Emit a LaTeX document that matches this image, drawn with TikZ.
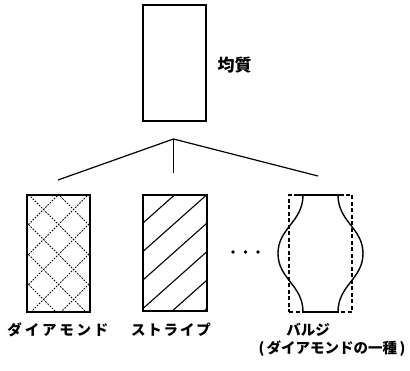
\documentclass[tikz,border=0pt]{standalone}
\usepackage{fontspec}
\newfontfamily\jp{Noto Sans CJK JP}
\begin{document}
\begin{tikzpicture}[x=1pt,y=-1pt,
  box/.style={draw,line width=1.3pt,inner sep=0pt,minimum width=63pt,minimum height=116pt},
  dbox/.style={draw,line width=1.2pt,dash pattern=on 4pt off 2.5pt,inner sep=0pt,minimum width=63pt,minimum height=117pt},
  lbl/.style={font=\jp\bfseries\fontsize{14.5}{16}\selectfont,inner sep=0pt},
  link/.style={line width=1.2pt},
  hatch/.style={line width=1.1pt},
  dhatch/.style={line width=1pt,dash pattern=on 1.6pt off 1.4pt},
  bulge/.style={line width=1.4pt}]
\useasboundingbox (0,0) rectangle (410,371);

% top box
\node[box] (top) at (174.5,63) {};
\node[lbl,font=\jp\bfseries\fontsize{17}{18}\selectfont] (homog) at (234.5,65.5) {均質};

% tree
\coordinate (apex) at (173.5,139);
\coordinate (lend) at (58,180);
\coordinate (rend) at (318,176);
\coordinate (mend) at (173.5,173);
\draw[link] (lend) -- (apex) -- (rend);
\draw[link] (apex) -- (mend);

% diamond box
\node[box,minimum height=117pt] (dia) at (58.5,253.5) {};
\begin{scope}
  \clip (dia.south west) rectangle (dia.north east);
  \foreach \k in {-5,...,4}
    \draw[dhatch] (20,{186-30*\k}) -- (100,{266-30*\k});
  \foreach \k in {-4,...,5}
    \draw[dhatch] (20,{263+30*\k}) -- (100,{183+30*\k});
\end{scope}

% stripe box
\node[box,minimum width=64pt] (str) at (175,253) {};
\begin{scope}
  \clip (str.south west) rectangle (str.north east);
  \foreach \k in {-3,...,5}
    \draw[hatch] (130,{223+28.5*\k+0.89*13}) -- (220,{223+28.5*\k-0.89*77});
\end{scope}

% dots
\fill (233,252) circle (1.9);
\fill (245.5,252) circle (1.9);
\fill (258,252) circle (1.9);

% bulge
\node[dbox] (bul) at (320.5,253.5) {};
\coordinate (bl1) at (303,195);
\coordinate (bl2) at (303,312);
\coordinate (br1) at (338,195);
\coordinate (br2) at (338,312);
\coordinate (tl) at (298,195);
\coordinate (tr) at (343,195);
\draw[bulge] (tl) -- (tr);
\draw[bulge] (bl2) -- (br2);
\draw[bulge] (bl1) .. controls (303,222) and (278,228) .. (278,253.5) .. controls (278,279) and (303,285) .. (bl2);
\draw[bulge] (br1) .. controls (338,222) and (363,228) .. (363,253.5) .. controls (363,279) and (338,285) .. (br2);

% labels
\node[lbl] (ldia) at (58,330) {\makebox[101pt][s]{ダ\hfil イ\hfil ア\hfil モ\hfil ン\hfil ド}};
\node[lbl] (lstr) at (171,330) {\makebox[80pt][s]{ス\hfil ト\hfil ラ\hfil イ\hfil プ}};
\node[lbl] (lbul) at (308,330) {バルジ};
\node[lbl] (lbul2) at (332,349) {(\,ダイアモンドの一種\,)};
\end{tikzpicture}
\end{document}
